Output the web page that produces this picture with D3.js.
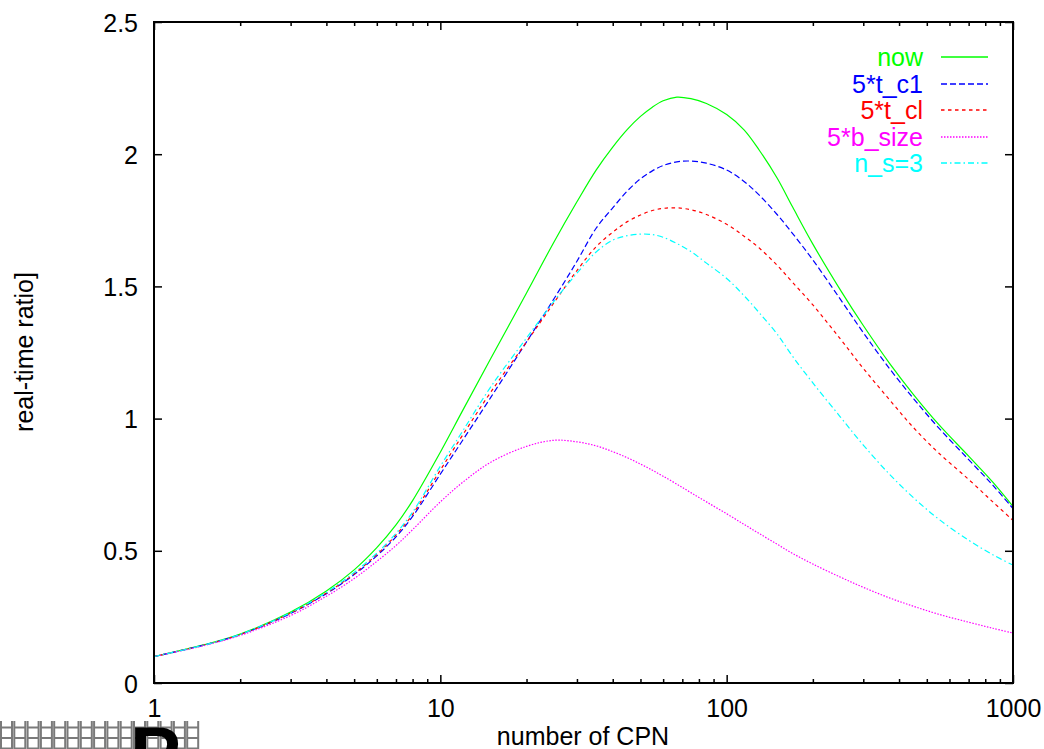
<!DOCTYPE html>
<html><head><meta charset="utf-8">
<script src="https://cdn.jsdelivr.net/npm/d3@7"></script>
<style>body{margin:0;background:#fff;overflow:hidden} text{font-family:"Liberation Sans",Arial,Helvetica,sans-serif}</style>
</head><body><svg id="c" width="1044" height="749"></svg>
<script>
// ---- data ----
const xValues = [1, 1.5, 2, 3, 4, 5, 6, 7, 8, 10, 12, 15, 20, 25, 30, 35, 40, 45, 50, 55, 60, 67, 75, 85, 100, 115, 130, 150, 170, 200, 250, 300, 370, 450, 550, 700, 850, 1000];
const nowValues   = [0.100, 0.145, 0.185, 0.268, 0.348, 0.428, 0.512, 0.598, 0.690, 0.873, 1.033, 1.227, 1.475, 1.670, 1.820, 1.940, 2.027, 2.094, 2.143, 2.178, 2.202, 2.216, 2.210, 2.192, 2.150, 2.092, 2.015, 1.910, 1.800, 1.660, 1.485, 1.352, 1.210, 1.090, 0.978, 0.858, 0.760, 0.668];
const tc1Values   = [0.100, 0.144, 0.183, 0.263, 0.338, 0.410, 0.481, 0.553, 0.630, 0.790, 0.920, 1.080, 1.290, 1.455, 1.595, 1.720, 1.797, 1.861, 1.907, 1.937, 1.957, 1.971, 1.974, 1.966, 1.940, 1.897, 1.845, 1.772, 1.700, 1.600, 1.450, 1.325, 1.190, 1.075, 0.965, 0.845, 0.748, 0.660];
const tclValues   = [0.100, 0.144, 0.183, 0.264, 0.340, 0.413, 0.486, 0.560, 0.638, 0.805, 0.940, 1.100, 1.290, 1.440, 1.560, 1.650, 1.705, 1.745, 1.770, 1.787, 1.795, 1.797, 1.790, 1.772, 1.735, 1.690, 1.645, 1.580, 1.515, 1.430, 1.300, 1.190, 1.072, 0.965, 0.870, 0.770, 0.685, 0.615];
const bsizeValues = [0.100, 0.142, 0.180, 0.255, 0.328, 0.395, 0.460, 0.520, 0.580, 0.685, 0.760, 0.835, 0.895, 0.918, 0.912, 0.897, 0.875, 0.852, 0.828, 0.805, 0.782, 0.752, 0.720, 0.685, 0.640, 0.600, 0.565, 0.525, 0.490, 0.450, 0.400, 0.362, 0.322, 0.290, 0.260, 0.230, 0.207, 0.189];
const ns3Values   = [0.100, 0.144, 0.184, 0.266, 0.343, 0.418, 0.491, 0.566, 0.646, 0.820, 0.955, 1.120, 1.305, 1.445, 1.550, 1.630, 1.675, 1.692, 1.698, 1.696, 1.686, 1.662, 1.632, 1.588, 1.530, 1.465, 1.400, 1.320, 1.235, 1.135, 1.005, 0.900, 0.790, 0.700, 0.620, 0.540, 0.485, 0.446];
const seriesNames = ["now", "5*t_c1", "5*t_cl", "5*b_size", "n_s=3"];
const seriesColors = ["#00ff00", "#0000ff", "#ff0000", "#ff00ff", "#00ffff"];
const seriesDashes = [null, "6,3", "3.5,3.5", "1.5,1.5", "6,3,1.5,3"];
const xMajorTicks = [1, 10, 100, 1000];
const xTickLabels = ["1", "10", "100", "1000"];
const yTicks = [0, 0.5, 1, 1.5, 2, 2.5];
const yTickLabels = ["0", "0.5", "1", "1.5", "2", "2.5"];
const xTitle = "number of CPN";
const yTitle = "real-time ratio]";

const seriesValues = [nowValues, tc1Values, tclValues, bsizeValues, ns3Values];

// ---- layout ----
const L = 154, R = 1013, T = 22, B = 683;
const svg = d3.select("#c");
const x = d3.scaleLog().domain([1, 1000]).range([L, R]);
const y = d3.scaleLinear().domain([0, 2.5]).range([B, T]);

const minorTicks = [];
for (let d = 1; d < 1000; d *= 10) for (let k = 2; k <= 9; k++) minorTicks.push(d * k);

const FONT = "'Liberation Sans',Arial,Helvetica,sans-serif";

function styleAxis(g) {
  g.select(".domain").remove();
  g.attr("font-size", 25).attr("font-family", FONT);
  g.selectAll(".tick line").attr("stroke", "#000").attr("stroke-width", 1.5);
  g.selectAll(".tick text").attr("fill", "#000");
}

// bottom axis (major with labels, minor without)
const gxb = svg.append("g").attr("transform", `translate(0,${B})`)
  .call(d3.axisBottom(x).tickValues(xMajorTicks).tickSize(-8).tickFormat((d, i) => xTickLabels[i]));
styleAxis(gxb);
gxb.selectAll(".tick text").attr("y", 34).attr("dy", null);
const gxbm = svg.append("g").attr("transform", `translate(0,${B})`)
  .call(d3.axisBottom(x).tickValues(minorTicks).tickSize(-4).tickFormat(""));
styleAxis(gxbm);
// top axis
const gxt = svg.append("g").attr("transform", `translate(0,${T})`)
  .call(d3.axisTop(x).tickValues(xMajorTicks).tickSize(-8).tickFormat(""));
styleAxis(gxt);
const gxtm = svg.append("g").attr("transform", `translate(0,${T})`)
  .call(d3.axisTop(x).tickValues(minorTicks).tickSize(-4).tickFormat(""));
styleAxis(gxtm);
// left axis
const gyl = svg.append("g").attr("transform", `translate(${L},0)`)
  .call(d3.axisLeft(y).tickValues(yTicks).tickSize(-8).tickFormat((d, i) => yTickLabels[i]));
styleAxis(gyl);
gyl.selectAll(".tick text").attr("x", -16).attr("dy", "0.36em");
// right axis
const gyr = svg.append("g").attr("transform", `translate(${R},0)`)
  .call(d3.axisRight(y).tickValues(yTicks).tickSize(-8).tickFormat(""));
styleAxis(gyr);

// clip
svg.append("clipPath").attr("id", "clip").append("rect")
  .attr("x", L).attr("y", T).attr("width", R - L).attr("height", B - T);

// curves
const line = d3.line().x(d => x(d[0])).y(d => y(d[1])).curve(d3.curveCatmullRom.alpha(0.5));
const curves = svg.append("g").attr("clip-path", "url(#clip)");
seriesValues.forEach((vals, i) => {
  curves.append("path")
    .datum(xValues.map((xv, j) => [xv, vals[j]]))
    .attr("fill", "none")
    .attr("stroke", seriesColors[i])
    .attr("stroke-width", 1.2)
    .attr("stroke-dasharray", seriesDashes[i])
    .attr("d", line);
});

// frame
svg.append("rect").attr("x", L).attr("y", T).attr("width", R - L).attr("height", B - T)
  .attr("fill", "none").attr("stroke", "#000").attr("stroke-width", 2);

// legend
const legendBase = [66, 92.5, 119, 146, 172];
seriesNames.forEach((name, i) => {
  svg.append("text").attr("x", 923).attr("y", legendBase[i])
    .attr("text-anchor", "end").attr("font-size", 25).attr("font-family", FONT)
    .attr("fill", seriesColors[i]).text(name);
  const ly = Math.round(legendBase[i] - 9);
  svg.append("line").attr("x1", 941).attr("x2", 988)
    .attr("y1", ly).attr("y2", ly)
    .attr("stroke", seriesColors[i]).attr("stroke-width", 1.3)
    .attr("stroke-dasharray", seriesDashes[i]);
});

// axis titles
svg.append("text").attr("x", 583).attr("y", 745).attr("text-anchor", "middle")
  .attr("font-size", 25).attr("font-family", FONT).text(xTitle);
svg.append("text").attr("transform", "translate(33,352) rotate(-90)").attr("text-anchor", "middle")
  .attr("font-size", 25).attr("font-family", FONT).text(yTitle);

// bottom-left rendering artifact (grey boxes + large bold glyph)
const art = svg.append("g").attr("stroke", "#7a7a7a").attr("stroke-width", 2).attr("fill", "none");
for (let i = 0; i < 15; i++) {
  const x0 = 1 + i * 13.3;
  art.append("path").attr("d",
    `M${x0},721V749M${x0 + 11},721V749M${x0},727.5H${x0 + 11}M${x0},738H${x0 + 11}M${x0},748.5H${x0 + 11}`);
}
svg.append("text").attr("x", 130).attr("y", 780).attr("font-size", 76).attr("font-weight", "bold")
  .attr("font-family", FONT).text("P");
</script></body></html>
